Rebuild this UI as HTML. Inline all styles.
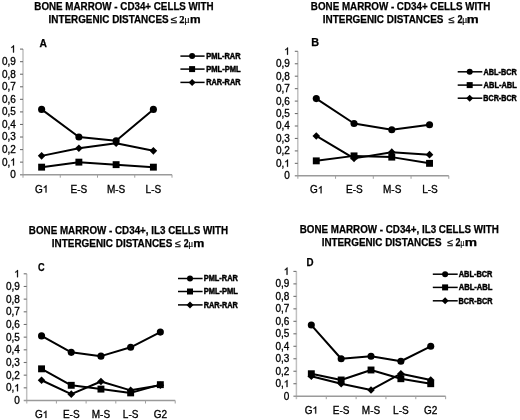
<!DOCTYPE html>
<html><head><meta charset="utf-8"><style>
html,body{margin:0;padding:0;background:#fff;}
svg{display:block;will-change:transform;filter:blur(0.35px);}
text{font-family:"Liberation Sans", sans-serif;fill:#000;}
.y{font-size:10px;text-anchor:end;stroke:#000;stroke-width:0.3px;}
.x{font-size:10px;text-anchor:middle;stroke:#000;stroke-width:0.3px;}
.z{font-size:10px;stroke:#000;stroke-width:0.3px;}
</style></head><body>
<svg width="520" height="420" viewBox="0 0 520 420">
<rect width="520" height="420" fill="#fff"/>
<text x="34.36" y="9.5" style='font-family:"Liberation Sans", sans-serif;font-weight:bold;font-size:10px' textLength="179.28" lengthAdjust="spacingAndGlyphs" stroke="#000" stroke-width="0.25">BONE MARROW - CD34+ CELLS WITH</text>
<text x="48.56" y="22.5" style='font-family:"Liberation Sans", sans-serif;font-weight:bold;font-size:10px' textLength="120.03" lengthAdjust="spacingAndGlyphs" stroke="#000" stroke-width="0.25">INTERGENIC DISTANCES</text>
<text x="170.85" y="22.5" style='font-family:"Liberation Sans", sans-serif;font-weight:normal;font-size:10px' textLength="6.38" lengthAdjust="spacingAndGlyphs" stroke="#000" stroke-width="0.25">≤</text>
<text x="179.18" y="22.5" style='font-family:"Liberation Serif", serif;font-weight:bold;font-size:10px' textLength="5.3" lengthAdjust="spacingAndGlyphs" stroke="#000" stroke-width="0.25">2</text>
<text x="184.27" y="22.5" style='font-family:"Liberation Serif", serif;font-weight:normal;font-size:10px' textLength="5.56" lengthAdjust="spacingAndGlyphs" stroke="#000" stroke-width="0.15">μ</text>
<text x="189.92" y="22.5" style='font-family:"Liberation Sans", sans-serif;font-weight:bold;font-size:10px' textLength="10.65" lengthAdjust="spacingAndGlyphs" stroke="#000" stroke-width="0.25">m</text>
<text x="39.64" y="46.6" style='font-family:"Liberation Sans", sans-serif;font-weight:bold;font-size:10px' textLength="7.44" lengthAdjust="spacingAndGlyphs" stroke="#000" stroke-width="0.25">A</text>
<path d="M23 49.1V177.7" stroke="#c0c0c0" stroke-width="1.5" fill="none"/>
<path d="M20 174.7H172" stroke="#9a9a9a" stroke-width="1.4" fill="none"/>
<g stroke="#707070" stroke-width="1.1" fill="none">
<path d="M20 162.14H23"/>
<path d="M20 149.58H23"/>
<path d="M20 137.02H23"/>
<path d="M20 124.46H23"/>
<path d="M20 111.9H23"/>
<path d="M20 99.34H23"/>
<path d="M20 86.78H23"/>
<path d="M20 74.22H23"/>
<path d="M20 61.66H23"/>
<path d="M20 49.1H23"/>
</g><g stroke="#a0a0a0" stroke-width="1" fill="none">
<path d="M60.25 174.7V177.7"/>
<path d="M97.5 174.7V177.7"/>
<path d="M134.75 174.7V177.7"/>
<path d="M172 174.7V177.7"/>
</g>
<text x="15.8" y="178.1" class="y">0</text>
<text x="1.9" y="165.54" class="z">0,</text><path d="M763 0H583V1147Q518 1085 412 1023T223 930V1104Q374 1175 487 1276T647 1472H763Z" transform="translate(10.24 165.54) scale(0.004883 -0.004883)" stroke="#000" stroke-width="61.4"/>
<text x="15.8" y="152.98" class="y">0,2</text>
<text x="15.8" y="140.42" class="y">0,3</text>
<text x="15.8" y="127.86" class="y">0,4</text>
<text x="15.8" y="115.3" class="y">0,5</text>
<text x="15.8" y="102.74" class="y">0,6</text>
<text x="15.8" y="90.18" class="y">0,7</text>
<text x="15.8" y="77.62" class="y">0,8</text>
<text x="15.8" y="65.06" class="y">0,9</text>
<path d="M763 0H583V1147Q518 1085 412 1023T223 930V1104Q374 1175 487 1276T647 1472H763Z" transform="translate(10.24 52.5) scale(0.004883 -0.004883)" stroke="#000" stroke-width="61.4"/>
<text x="34.96" y="192.5" class="z">G</text><path d="M763 0H583V1147Q518 1085 412 1023T223 930V1104Q374 1175 487 1276T647 1472H763Z" transform="translate(42.73 192.5) scale(0.004883 -0.004883)" stroke="#000" stroke-width="61.4"/>
<text x="78.88" y="192.5" class="x">E-S</text>
<text x="116.12" y="192.5" class="x">M-S</text>
<text x="153.38" y="192.5" class="x">L-S</text>
<path d="M41.62 109.39 L78.88 137.02 L116.12 140.79 L153.38 109.39" fill="none" stroke="#000" stroke-width="2" stroke-linejoin="round"/>
<circle cx="41.62" cy="109.39" r="3.55"/>
<circle cx="78.88" cy="137.02" r="3.55"/>
<circle cx="116.12" cy="140.79" r="3.55"/>
<circle cx="153.38" cy="109.39" r="3.55"/>
<path d="M41.62 167.16 L78.88 162.14 L116.12 164.65 L153.38 167.16" fill="none" stroke="#000" stroke-width="2" stroke-linejoin="round"/>
<rect x="38.17" y="163.71" width="6.9" height="6.9"/>
<rect x="75.42" y="158.69" width="6.9" height="6.9"/>
<rect x="112.67" y="161.2" width="6.9" height="6.9"/>
<rect x="149.93" y="163.71" width="6.9" height="6.9"/>
<path d="M41.62 155.86 L78.88 148.32 L116.12 143.3 L153.38 150.84" fill="none" stroke="#000" stroke-width="2" stroke-linejoin="round"/>
<path d="M41.62 152.06L45.42 155.86L41.62 159.66L37.83 155.86Z"/>
<path d="M78.88 144.52L82.67 148.32L78.88 152.12L75.08 148.32Z"/>
<path d="M116.12 139.5L119.92 143.3L116.12 147.1L112.33 143.3Z"/>
<path d="M153.38 147.04L157.18 150.84L153.38 154.64L149.57 150.84Z"/>
<path d="M180.4 56.1H204.6" stroke="#000" stroke-width="1.5"/>
<circle cx="192.1" cy="56.1" r="3"/>
<text x="206.22" y="58.9" style='font-family:"Liberation Sans", sans-serif;font-weight:bold;font-size:8.2px' textLength="34.34" lengthAdjust="spacingAndGlyphs" stroke="#000" stroke-width="0.45">PML-RAR</text>
<path d="M180.4 69.1H204.6" stroke="#000" stroke-width="1.5"/>
<rect x="189.1" y="66.1" width="6" height="6"/>
<text x="206.21" y="71.9" style='font-family:"Liberation Sans", sans-serif;font-weight:bold;font-size:8.2px' textLength="34.42" lengthAdjust="spacingAndGlyphs" stroke="#000" stroke-width="0.45">PML-PML</text>
<path d="M180.4 82.4H204.6" stroke="#000" stroke-width="1.5"/>
<path d="M192.1 78.9L195.6 82.4L192.1 85.9L188.6 82.4Z"/>
<text x="206.22" y="85.2" style='font-family:"Liberation Sans", sans-serif;font-weight:bold;font-size:8.2px' textLength="34.33" lengthAdjust="spacingAndGlyphs" stroke="#000" stroke-width="0.45">RAR-RAR</text>
<text x="310.86" y="10" style='font-family:"Liberation Sans", sans-serif;font-weight:bold;font-size:10px' textLength="179.38" lengthAdjust="spacingAndGlyphs" stroke="#000" stroke-width="0.25">BONE MARROW - CD34+ CELLS WITH</text>
<text x="322.86" y="23" style='font-family:"Liberation Sans", sans-serif;font-weight:bold;font-size:10px' textLength="120.53" lengthAdjust="spacingAndGlyphs" stroke="#000" stroke-width="0.25">INTERGENIC DISTANCES</text>
<text x="448.47" y="23" style='font-family:"Liberation Sans", sans-serif;font-weight:normal;font-size:10px' textLength="6.05" lengthAdjust="spacingAndGlyphs" stroke="#000" stroke-width="0.25">≤</text>
<text x="457.38" y="23" style='font-family:"Liberation Sans", sans-serif;font-weight:bold;font-size:10px' textLength="5.1" lengthAdjust="spacingAndGlyphs" stroke="#000" stroke-width="0.25">2</text>
<text x="461.99" y="23" style='font-family:"Liberation Serif", serif;font-weight:normal;font-size:10px' textLength="5.43" lengthAdjust="spacingAndGlyphs" stroke="#000" stroke-width="0.15">μ</text>
<text x="466.73" y="23" style='font-family:"Liberation Sans", sans-serif;font-weight:bold;font-size:10px' textLength="11.93" lengthAdjust="spacingAndGlyphs" stroke="#000" stroke-width="0.25">m</text>
<text x="311.3" y="46.4" style='font-family:"Liberation Sans", sans-serif;font-weight:bold;font-size:10px' textLength="7.81" lengthAdjust="spacingAndGlyphs" stroke="#000" stroke-width="0.25">B</text>
<path d="M297.8 51.3V178.8" stroke="#c0c0c0" stroke-width="1.5" fill="none"/>
<path d="M294.8 175.8H448.8" stroke="#9a9a9a" stroke-width="1.4" fill="none"/>
<g stroke="#707070" stroke-width="1.1" fill="none">
<path d="M294.8 163.35H297.8"/>
<path d="M294.8 150.9H297.8"/>
<path d="M294.8 138.45H297.8"/>
<path d="M294.8 126H297.8"/>
<path d="M294.8 113.55H297.8"/>
<path d="M294.8 101.1H297.8"/>
<path d="M294.8 88.65H297.8"/>
<path d="M294.8 76.2H297.8"/>
<path d="M294.8 63.75H297.8"/>
<path d="M294.8 51.3H297.8"/>
</g><g stroke="#a0a0a0" stroke-width="1" fill="none">
<path d="M335.55 175.8V178.8"/>
<path d="M373.3 175.8V178.8"/>
<path d="M411.05 175.8V178.8"/>
<path d="M448.8 175.8V178.8"/>
</g>
<text x="289.8" y="179.2" class="y">0</text>
<text x="275.9" y="166.75" class="z">0,</text><path d="M763 0H583V1147Q518 1085 412 1023T223 930V1104Q374 1175 487 1276T647 1472H763Z" transform="translate(284.24 166.75) scale(0.004883 -0.004883)" stroke="#000" stroke-width="61.4"/>
<text x="289.8" y="154.3" class="y">0,2</text>
<text x="289.8" y="141.85" class="y">0,3</text>
<text x="289.8" y="129.4" class="y">0,4</text>
<text x="289.8" y="116.95" class="y">0,5</text>
<text x="289.8" y="104.5" class="y">0,6</text>
<text x="289.8" y="92.05" class="y">0,7</text>
<text x="289.8" y="79.6" class="y">0,8</text>
<text x="289.8" y="67.15" class="y">0,9</text>
<path d="M763 0H583V1147Q518 1085 412 1023T223 930V1104Q374 1175 487 1276T647 1472H763Z" transform="translate(284.24 54.7) scale(0.004883 -0.004883)" stroke="#000" stroke-width="61.4"/>
<text x="310.01" y="193.3" class="z">G</text><path d="M763 0H583V1147Q518 1085 412 1023T223 930V1104Q374 1175 487 1276T647 1472H763Z" transform="translate(317.78 193.3) scale(0.004883 -0.004883)" stroke="#000" stroke-width="61.4"/>
<text x="354.43" y="193.3" class="x">E-S</text>
<text x="392.18" y="193.3" class="x">M-S</text>
<text x="429.93" y="193.3" class="x">L-S</text>
<path d="M316.28 98.61 L354.03 123.51 L391.78 129.74 L429.53 124.76" fill="none" stroke="#000" stroke-width="2" stroke-linejoin="round"/>
<circle cx="316.28" cy="98.61" r="3.55"/>
<circle cx="354.03" cy="123.51" r="3.55"/>
<circle cx="391.78" cy="129.74" r="3.55"/>
<circle cx="429.53" cy="124.76" r="3.55"/>
<path d="M316.28 160.86 L354.03 155.88 L391.78 157.12 L429.53 163.35" fill="none" stroke="#000" stroke-width="2" stroke-linejoin="round"/>
<rect x="312.83" y="157.41" width="6.9" height="6.9"/>
<rect x="350.58" y="152.43" width="6.9" height="6.9"/>
<rect x="388.33" y="153.68" width="6.9" height="6.9"/>
<rect x="426.08" y="159.9" width="6.9" height="6.9"/>
<path d="M316.28 135.96 L354.03 158.37 L391.78 152.15 L429.53 154.64" fill="none" stroke="#000" stroke-width="2" stroke-linejoin="round"/>
<path d="M316.28 132.16L320.08 135.96L316.28 139.76L312.48 135.96Z"/>
<path d="M354.03 154.57L357.83 158.37L354.03 162.17L350.23 158.37Z"/>
<path d="M391.78 148.34L395.58 152.15L391.78 155.95L387.98 152.15Z"/>
<path d="M429.53 150.84L433.33 154.64L429.53 158.44L425.73 154.64Z"/>
<path d="M457.7 71.8H482.3" stroke="#000" stroke-width="1.5"/>
<circle cx="469.7" cy="71.8" r="3"/>
<text x="483.62" y="74.6" style='font-family:"Liberation Sans", sans-serif;font-weight:bold;font-size:8.2px' textLength="33.13" lengthAdjust="spacingAndGlyphs" stroke="#000" stroke-width="0.45">ABL-BCR</text>
<path d="M457.7 85.1H482.3" stroke="#000" stroke-width="1.5"/>
<rect x="466.7" y="82.1" width="6" height="6"/>
<text x="483.61" y="87.9" style='font-family:"Liberation Sans", sans-serif;font-weight:bold;font-size:8.2px' textLength="33.2" lengthAdjust="spacingAndGlyphs" stroke="#000" stroke-width="0.45">ABL-ABL</text>
<path d="M457.7 98.2H482.3" stroke="#000" stroke-width="1.5"/>
<path d="M469.7 94.7L473.2 98.2L469.7 101.7L466.2 98.2Z"/>
<text x="483.33" y="101" style='font-family:"Liberation Sans", sans-serif;font-weight:bold;font-size:8.2px' textLength="33.42" lengthAdjust="spacingAndGlyphs" stroke="#000" stroke-width="0.45">BCR-BCR</text>
<text x="28.86" y="234.4" style='font-family:"Liberation Sans", sans-serif;font-weight:bold;font-size:10px' textLength="199.29" lengthAdjust="spacingAndGlyphs" stroke="#000" stroke-width="0.25">BONE MARROW - CD34+, IL3 CELLS WITH</text>
<text x="51.86" y="247.2" style='font-family:"Liberation Sans", sans-serif;font-weight:bold;font-size:10px' textLength="120.43" lengthAdjust="spacingAndGlyphs" stroke="#000" stroke-width="0.25">INTERGENIC DISTANCES</text>
<text x="175.08" y="247.2" style='font-family:"Liberation Sans", sans-serif;font-weight:normal;font-size:10px' textLength="5.82" lengthAdjust="spacingAndGlyphs" stroke="#000" stroke-width="0.25">≤</text>
<text x="183.69" y="247.2" style='font-family:"Liberation Sans", sans-serif;font-weight:bold;font-size:10px' textLength="4.87" lengthAdjust="spacingAndGlyphs" stroke="#000" stroke-width="0.25">2</text>
<text x="188.25" y="247.2" style='font-family:"Liberation Serif", serif;font-weight:normal;font-size:10px' textLength="5.04" lengthAdjust="spacingAndGlyphs" stroke="#000" stroke-width="0.15">μ</text>
<text x="193.19" y="247.2" style='font-family:"Liberation Sans", sans-serif;font-weight:bold;font-size:10px' textLength="11.11" lengthAdjust="spacingAndGlyphs" stroke="#000" stroke-width="0.25">m</text>
<text x="37.93" y="270.7" style='font-family:"Liberation Sans", sans-serif;font-weight:bold;font-size:10px' textLength="6.62" lengthAdjust="spacingAndGlyphs" stroke="#000" stroke-width="0.25">C</text>
<path d="M26.7 273.8V403.5" stroke="#c0c0c0" stroke-width="1.5" fill="none"/>
<path d="M23.7 400.5H175.2" stroke="#9a9a9a" stroke-width="1.4" fill="none"/>
<g stroke="#707070" stroke-width="1.1" fill="none">
<path d="M23.7 387.83H26.7"/>
<path d="M23.7 375.16H26.7"/>
<path d="M23.7 362.49H26.7"/>
<path d="M23.7 349.82H26.7"/>
<path d="M23.7 337.15H26.7"/>
<path d="M23.7 324.48H26.7"/>
<path d="M23.7 311.81H26.7"/>
<path d="M23.7 299.14H26.7"/>
<path d="M23.7 286.47H26.7"/>
<path d="M23.7 273.8H26.7"/>
</g><g stroke="#a0a0a0" stroke-width="1" fill="none">
<path d="M56.4 400.5V403.5"/>
<path d="M86.1 400.5V403.5"/>
<path d="M115.8 400.5V403.5"/>
<path d="M145.5 400.5V403.5"/>
<path d="M175.2 400.5V403.5"/>
</g>
<text x="19.8" y="403.9" class="y">0</text>
<text x="5.9" y="391.23" class="z">0,</text><path d="M763 0H583V1147Q518 1085 412 1023T223 930V1104Q374 1175 487 1276T647 1472H763Z" transform="translate(14.24 391.23) scale(0.004883 -0.004883)" stroke="#000" stroke-width="61.4"/>
<text x="19.8" y="378.56" class="y">0,2</text>
<text x="19.8" y="365.89" class="y">0,3</text>
<text x="19.8" y="353.22" class="y">0,4</text>
<text x="19.8" y="340.55" class="y">0,5</text>
<text x="19.8" y="327.88" class="y">0,6</text>
<text x="19.8" y="315.21" class="y">0,7</text>
<text x="19.8" y="302.54" class="y">0,8</text>
<text x="19.8" y="289.87" class="y">0,9</text>
<path d="M763 0H583V1147Q518 1085 412 1023T223 930V1104Q374 1175 487 1276T647 1472H763Z" transform="translate(14.24 277.2) scale(0.004883 -0.004883)" stroke="#000" stroke-width="61.4"/>
<text x="34.88" y="417.9" class="z">G</text><path d="M763 0H583V1147Q518 1085 412 1023T223 930V1104Q374 1175 487 1276T647 1472H763Z" transform="translate(42.66 417.9) scale(0.004883 -0.004883)" stroke="#000" stroke-width="61.4"/>
<text x="71.25" y="417.9" class="x">E-S</text>
<text x="100.95" y="417.9" class="x">M-S</text>
<text x="130.65" y="417.9" class="x">L-S</text>
<text x="160.35" y="417.9" class="x">G2</text>
<path d="M41.55 335.88 L71.25 352.35 L100.95 356.16 L130.65 347.29 L160.35 332.08" fill="none" stroke="#000" stroke-width="2" stroke-linejoin="round"/>
<circle cx="41.55" cy="335.88" r="3.55"/>
<circle cx="71.25" cy="352.35" r="3.55"/>
<circle cx="100.95" cy="356.16" r="3.55"/>
<circle cx="130.65" cy="347.29" r="3.55"/>
<circle cx="160.35" cy="332.08" r="3.55"/>
<path d="M41.55 368.82 L71.25 385.3 L100.95 389.1 L130.65 392.9 L160.35 384.66" fill="none" stroke="#000" stroke-width="2" stroke-linejoin="round"/>
<rect x="38.1" y="365.38" width="6.9" height="6.9"/>
<rect x="67.8" y="381.85" width="6.9" height="6.9"/>
<rect x="97.5" y="385.65" width="6.9" height="6.9"/>
<rect x="127.2" y="389.45" width="6.9" height="6.9"/>
<rect x="156.9" y="381.21" width="6.9" height="6.9"/>
<path d="M41.55 380.23 L71.25 394.17 L100.95 381.5 L130.65 390.36 L160.35 385.3" fill="none" stroke="#000" stroke-width="2" stroke-linejoin="round"/>
<path d="M41.55 376.43L45.35 380.23L41.55 384.03L37.75 380.23Z"/>
<path d="M71.25 390.37L75.05 394.17L71.25 397.97L67.45 394.17Z"/>
<path d="M100.95 377.69L104.75 381.5L100.95 385.3L97.15 381.5Z"/>
<path d="M130.65 386.56L134.45 390.36L130.65 394.16L126.85 390.36Z"/>
<path d="M160.35 381.5L164.15 385.3L160.35 389.1L156.55 385.3Z"/>
<path d="M178 278.5H202.6" stroke="#000" stroke-width="1.5"/>
<circle cx="190" cy="278.5" r="3"/>
<text x="203.72" y="281.3" style='font-family:"Liberation Sans", sans-serif;font-weight:bold;font-size:8.2px' textLength="34.13" lengthAdjust="spacingAndGlyphs" stroke="#000" stroke-width="0.45">PML-RAR</text>
<path d="M178 291.5H202.6" stroke="#000" stroke-width="1.5"/>
<rect x="187" y="288.5" width="6" height="6"/>
<text x="203.71" y="294.3" style='font-family:"Liberation Sans", sans-serif;font-weight:bold;font-size:8.2px' textLength="34.21" lengthAdjust="spacingAndGlyphs" stroke="#000" stroke-width="0.45">PML-PML</text>
<path d="M178 304.9H202.6" stroke="#000" stroke-width="1.5"/>
<path d="M190 301.4L193.5 304.9L190 308.4L186.5 304.9Z"/>
<text x="203.72" y="307.7" style='font-family:"Liberation Sans", sans-serif;font-weight:bold;font-size:8.2px' textLength="34.13" lengthAdjust="spacingAndGlyphs" stroke="#000" stroke-width="0.45">RAR-RAR</text>
<text x="299.76" y="233.2" style='font-family:"Liberation Sans", sans-serif;font-weight:bold;font-size:10px' textLength="198.99" lengthAdjust="spacingAndGlyphs" stroke="#000" stroke-width="0.25">BONE MARROW - CD34+, IL3 CELLS WITH</text>
<text x="321.66" y="245.8" style='font-family:"Liberation Sans", sans-serif;font-weight:bold;font-size:10px' textLength="119.83" lengthAdjust="spacingAndGlyphs" stroke="#000" stroke-width="0.25">INTERGENIC DISTANCES</text>
<text x="447.28" y="245.8" style='font-family:"Liberation Sans", sans-serif;font-weight:normal;font-size:10px' textLength="5.82" lengthAdjust="spacingAndGlyphs" stroke="#000" stroke-width="0.25">≤</text>
<text x="455.49" y="245.8" style='font-family:"Liberation Sans", sans-serif;font-weight:bold;font-size:10px' textLength="4.98" lengthAdjust="spacingAndGlyphs" stroke="#000" stroke-width="0.25">2</text>
<text x="460.34" y="245.8" style='font-family:"Liberation Serif", serif;font-weight:normal;font-size:10px' textLength="4.39" lengthAdjust="spacingAndGlyphs" stroke="#000" stroke-width="0.15">μ</text>
<text x="464.8" y="245.8" style='font-family:"Liberation Sans", sans-serif;font-weight:bold;font-size:10px' textLength="12.28" lengthAdjust="spacingAndGlyphs" stroke="#000" stroke-width="0.25">m</text>
<text x="306.47" y="265.7" style='font-family:"Liberation Sans", sans-serif;font-weight:bold;font-size:10px' textLength="7.05" lengthAdjust="spacingAndGlyphs" stroke="#000" stroke-width="0.25">D</text>
<path d="M296.4 271.4V399.2" stroke="#c0c0c0" stroke-width="1.5" fill="none"/>
<path d="M293.4 396.2H445.65" stroke="#9a9a9a" stroke-width="1.4" fill="none"/>
<g stroke="#707070" stroke-width="1.1" fill="none">
<path d="M293.4 383.72H296.4"/>
<path d="M293.4 371.24H296.4"/>
<path d="M293.4 358.76H296.4"/>
<path d="M293.4 346.28H296.4"/>
<path d="M293.4 333.8H296.4"/>
<path d="M293.4 321.32H296.4"/>
<path d="M293.4 308.84H296.4"/>
<path d="M293.4 296.36H296.4"/>
<path d="M293.4 283.88H296.4"/>
<path d="M293.4 271.4H296.4"/>
</g><g stroke="#a0a0a0" stroke-width="1" fill="none">
<path d="M326.25 396.2V399.2"/>
<path d="M356.1 396.2V399.2"/>
<path d="M385.95 396.2V399.2"/>
<path d="M415.8 396.2V399.2"/>
<path d="M445.65 396.2V399.2"/>
</g>
<text x="289.3" y="399.6" class="y">0</text>
<text x="275.4" y="387.12" class="z">0,</text><path d="M763 0H583V1147Q518 1085 412 1023T223 930V1104Q374 1175 487 1276T647 1472H763Z" transform="translate(283.74 387.12) scale(0.004883 -0.004883)" stroke="#000" stroke-width="61.4"/>
<text x="289.3" y="374.64" class="y">0,2</text>
<text x="289.3" y="362.16" class="y">0,3</text>
<text x="289.3" y="349.68" class="y">0,4</text>
<text x="289.3" y="337.2" class="y">0,5</text>
<text x="289.3" y="324.72" class="y">0,6</text>
<text x="289.3" y="312.24" class="y">0,7</text>
<text x="289.3" y="299.76" class="y">0,8</text>
<text x="289.3" y="287.28" class="y">0,9</text>
<path d="M763 0H583V1147Q518 1085 412 1023T223 930V1104Q374 1175 487 1276T647 1472H763Z" transform="translate(283.74 274.8) scale(0.004883 -0.004883)" stroke="#000" stroke-width="61.4"/>
<text x="304.66" y="413.6" class="z">G</text><path d="M763 0H583V1147Q518 1085 412 1023T223 930V1104Q374 1175 487 1276T647 1472H763Z" transform="translate(312.43 413.6) scale(0.004883 -0.004883)" stroke="#000" stroke-width="61.4"/>
<text x="341.17" y="413.6" class="x">E-S</text>
<text x="371.02" y="413.6" class="x">M-S</text>
<text x="400.88" y="413.6" class="x">L-S</text>
<text x="430.73" y="413.6" class="x">G2</text>
<path d="M311.32 325.06 L341.17 358.76 L371.02 356.26 L400.88 361.26 L430.73 346.28" fill="none" stroke="#000" stroke-width="2" stroke-linejoin="round"/>
<circle cx="311.32" cy="325.06" r="3.55"/>
<circle cx="341.17" cy="358.76" r="3.55"/>
<circle cx="371.02" cy="356.26" r="3.55"/>
<circle cx="400.88" cy="361.26" r="3.55"/>
<circle cx="430.73" cy="346.28" r="3.55"/>
<path d="M311.32 373.74 L341.17 379.98 L371.02 369.99 L400.88 378.73 L430.73 383.72" fill="none" stroke="#000" stroke-width="2" stroke-linejoin="round"/>
<rect x="307.88" y="370.29" width="6.9" height="6.9"/>
<rect x="337.72" y="376.53" width="6.9" height="6.9"/>
<rect x="367.57" y="366.54" width="6.9" height="6.9"/>
<rect x="397.43" y="375.28" width="6.9" height="6.9"/>
<rect x="427.28" y="380.27" width="6.9" height="6.9"/>
<path d="M311.32 376.23 L341.17 383.72 L371.02 389.96 L400.88 373.74 L430.73 379.98" fill="none" stroke="#000" stroke-width="2" stroke-linejoin="round"/>
<path d="M311.32 372.43L315.12 376.23L311.32 380.03L307.52 376.23Z"/>
<path d="M341.17 379.92L344.97 383.72L341.17 387.52L337.37 383.72Z"/>
<path d="M371.02 386.16L374.82 389.96L371.02 393.76L367.22 389.96Z"/>
<path d="M400.88 369.94L404.68 373.74L400.88 377.54L397.07 373.74Z"/>
<path d="M430.73 376.18L434.53 379.98L430.73 383.78L426.93 379.98Z"/>
<path d="M432.8 274.2H457.7" stroke="#000" stroke-width="1.5"/>
<circle cx="445.1" cy="274.2" r="3"/>
<text x="458.71" y="277" style='font-family:"Liberation Sans", sans-serif;font-weight:bold;font-size:8.2px' textLength="33.73" lengthAdjust="spacingAndGlyphs" stroke="#000" stroke-width="0.45">ABL-BCR</text>
<path d="M432.8 287.4H457.7" stroke="#000" stroke-width="1.5"/>
<rect x="442.1" y="284.4" width="6" height="6"/>
<text x="458.71" y="290.2" style='font-family:"Liberation Sans", sans-serif;font-weight:bold;font-size:8.2px' textLength="33.81" lengthAdjust="spacingAndGlyphs" stroke="#000" stroke-width="0.45">ABL-ABL</text>
<path d="M432.8 300.8H457.7" stroke="#000" stroke-width="1.5"/>
<path d="M445.1 297.3L448.6 300.8L445.1 304.3L441.6 300.8Z"/>
<text x="458.43" y="303.6" style='font-family:"Liberation Sans", sans-serif;font-weight:bold;font-size:8.2px' textLength="34.03" lengthAdjust="spacingAndGlyphs" stroke="#000" stroke-width="0.45">BCR-BCR</text>
</svg>
</body></html>
